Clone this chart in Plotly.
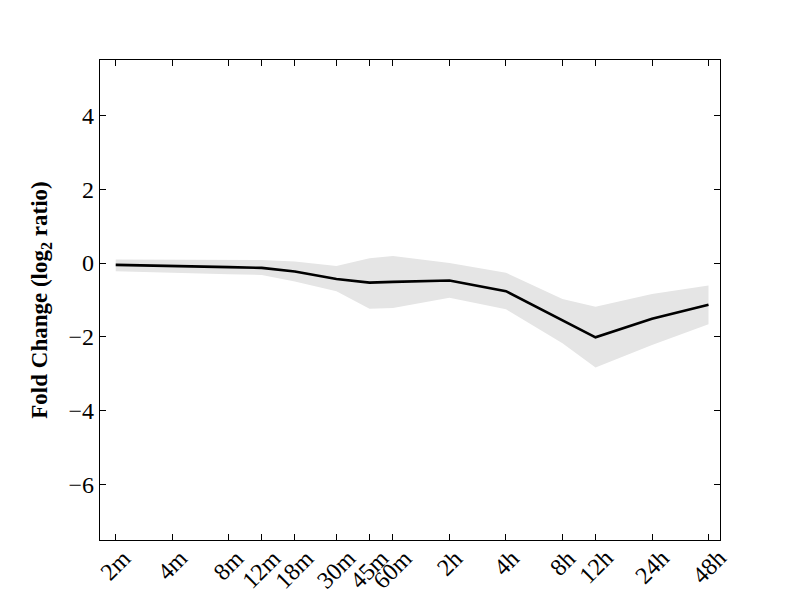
import math
import plotly.graph_objects as go

# time points (minutes) and their tick labels
times_min = [2, 4, 8, 12, 18, 30, 45, 60, 120, 240, 480, 720, 1440, 2880]
time_labels = ['2m', '4m', '8m', '12m', '18m', '30m', '45m', '60m',
               '2h', '4h', '8h', '12h', '24h', '48h']

# mean log2 fold change and band limits
mean_fc = [-0.05, -0.07, -0.11, -0.13, -0.23, -0.43, -0.53, -0.51,
           -0.47, -0.76, -1.56, -2.01, -1.51, -1.13]
upper_fc = [0.10, 0.09, 0.08, 0.08, 0.04, -0.08, 0.13, 0.19,
            0.00, -0.26, -0.97, -1.18, -0.84, -0.61]
lower_fc = [-0.22, -0.25, -0.30, -0.32, -0.50, -0.76, -1.24, -1.22,
            -0.94, -1.25, -2.17, -2.83, -2.22, -1.66]

y_ticks = [-6, -4, -2, 0, 2, 4]

FONT = "Liberation Serif"

fig = go.Figure()
fig.add_trace(go.Scatter(x=times_min, y=lower_fc, mode='lines',
                         line=dict(width=0, color='#e5e5e5'),
                         showlegend=False, hoverinfo='skip'))
fig.add_trace(go.Scatter(x=times_min, y=upper_fc, mode='lines',
                         line=dict(width=0, color='#e5e5e5'),
                         fill='tonexty', fillcolor='#e5e5e5',
                         showlegend=False, hoverinfo='skip'))
fig.add_trace(go.Scatter(x=times_min, y=mean_fc, mode='lines',
                         line=dict(width=2.6, color='black'),
                         showlegend=False))

# rotated, centred x tick labels (matplotlib-style)
for t, lab in zip(times_min, time_labels):
    fig.add_annotation(x=math.log10(t), y=0, xref='x', yref='paper',
                       text=lab, showarrow=False, textangle=-45,
                       xanchor='center', yanchor='top', yshift=-2,
                       font=dict(family=FONT, size=24, color='black'))

fig.update_layout(
    width=800, height=600,
    margin=dict(l=92, r=88, t=52, b=68),
    plot_bgcolor='white', paper_bgcolor='white',
    font=dict(family=FONT, size=24, color='black'),
    xaxis=dict(type='log', range=[0.2173, 3.5206],
               tickvals=times_min,
               showticklabels=False,
               ticks='inside', ticklen=6, tickcolor='black', tickwidth=1,
               showline=True, linecolor='black', linewidth=1.3,
               mirror='ticks', showgrid=False, zeroline=False),
    yaxis=dict(range=[-7.5, 5.5], tickvals=y_ticks,
               ticks='inside', ticklen=6, tickcolor='black', tickwidth=1,
               showline=True, linecolor='black', linewidth=1.3,
               mirror='ticks', showgrid=False, zeroline=False,
               tickfont=dict(family=FONT, size=24),
               title=dict(text='<b>Fold Change (log<sub>2</sub> ratio)</b>',
                          font=dict(family=FONT, size=23), standoff=14)),
)

fig.write_html("out.html")
